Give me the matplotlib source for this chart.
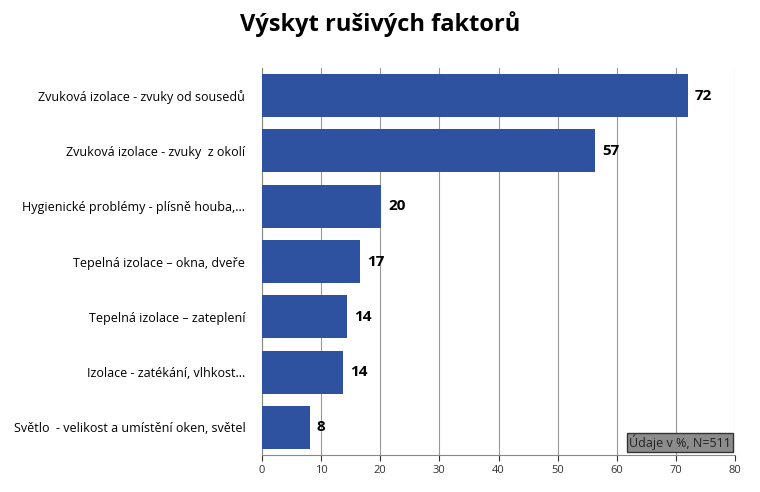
import matplotlib
matplotlib.use("Agg")
import matplotlib.pyplot as plt

plt.rcParams["font.family"] = ["Open Sans", "DejaVu Sans"]

categories = [
    "Zvuková izolace - zvuky od sousedů",
    "Zvuková izolace - zvuky  z okolí",
    "Hygienické problémy - plísně houba,...",
    "Tepelná izolace – okna, dveře",
    "Tepelná izolace – zateplení",
    "Izolace - zatékání, vlhkost...",
    "Světlo  - velikost a umístění oken, světel",
]
values = [72.0, 56.4, 20.1, 16.6, 14.4, 13.7, 8.1]
labels = ["72", "57", "20", "17", "14", "14", "8"]
BAR = "#2f52a0"

fig = plt.figure(figsize=(7.6, 4.92), dpi=100)
ax = fig.add_axes([262 / 760, 1 - 455 / 492, (735 - 262) / 760, (455 - 68) / 492])

y = list(range(len(categories)))
ax.barh(y, values, height=0.78, color=BAR, zorder=3)
for yi, v, lab in zip(y, values, labels):
    ax.text(v + 1.2, yi, lab, va="center", ha="left", fontsize=11, fontweight="bold", zorder=4)

ax.set_ylim(len(categories) - 0.5, -0.5)
ax.set_xlim(0, 80)
ax.set_xticks(range(0, 81, 10))
ax.set_yticks(y)
ax.set_yticklabels(categories, fontsize=9)
ax.tick_params(axis="y", length=0, pad=12)
ax.tick_params(axis="x", labelsize=8, length=4, colors="#333333")
ax.grid(axis="x", color="#999999", linewidth=0.8, zorder=0)
for s in ["top", "right"]:
    ax.spines[s].set_visible(False)
ax.spines["left"].set_color("#888888")
ax.spines["bottom"].set_color("#888888")

fig.text(0.5, 1 - 24 / 492, "Výskyt rušivých faktorů", ha="center", va="center",
         fontsize=17, fontweight="bold")
ax.text(0.992, 0.012, "Údaje v %, N=511", transform=ax.transAxes, ha="right", va="bottom",
        fontsize=9, color="#222222", zorder=5,
        bbox=dict(boxstyle="square,pad=0.15", facecolor="#8c8c8c", edgecolor="#333333"))

fig.savefig("out.png", dpi=100)
